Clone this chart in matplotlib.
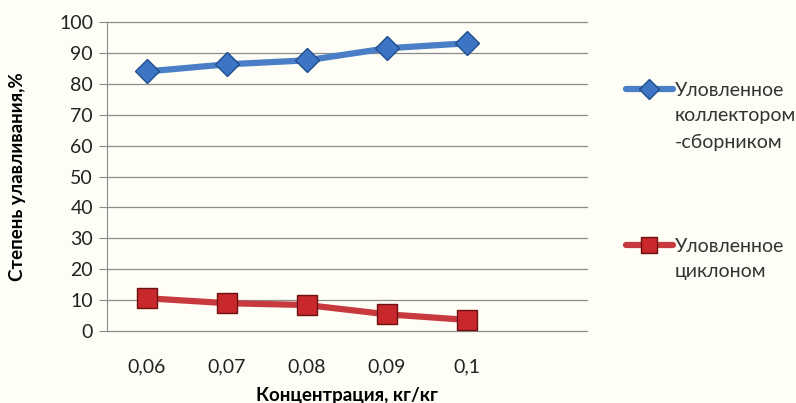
import matplotlib
matplotlib.use("Agg")
import matplotlib.pyplot as plt

categories = ["0,06", "0,07", "0,08", "0,09", "0,1"]
collector = [84, 86.3, 87.6, 91.5, 93.1]
cyclone = [10.6, 9.0, 8.4, 5.4, 3.6]
yticks = [0, 10, 20, 30, 40, 50, 60, 70, 80, 90, 100]
label_collector = ["Уловленное", "коллектором", "-сборником"]
label_cyclone = ["Уловленное", "циклоном"]

plt.rcParams['font.family'] = ['Lato', 'DejaVu Sans']
bg = "#FEFEF7"
fig = plt.figure(figsize=(7.96, 4.03), dpi=100, facecolor=bg)
ax = fig.add_axes([107/796, 1-331/403, 480/796, 309/403], facecolor=bg)

x = list(range(len(categories)))
l1, = ax.plot(x, collector, color="#4A7EC6", lw=4.5, marker="D", ms=12,
              mfc="#3D74C4", mec="#1F4E8C", mew=1.0, solid_capstyle="round", zorder=3)
l2, = ax.plot(x, cyclone, color="#C8393D", lw=4.5, marker="s", ms=14,
              mfc="#C8282C", mec="#6E1010", mew=1.0, solid_capstyle="round", zorder=3)

ax.set_xlim(-0.5, 5.5)
ax.set_ylim(0, 100)
ax.set_yticks(yticks)
ax.set_xticks(x)
ax.set_xticklabels(categories)
ax.yaxis.grid(True, color="#8C8C8C", lw=0.9)
for gl in ax.yaxis.get_gridlines():
    gl.set_clip_on(False)
ax.set_axisbelow(True)
for s in ["top", "right", "bottom"]:
    ax.spines[s].set_visible(False)
ax.spines["left"].set_color("#8C8C8C")
ax.tick_params(axis="y", length=6, color="#8C8C8C", labelsize=14, pad=4, labelcolor="#222222")
ax.tick_params(axis="x", length=0, labelsize=14, pad=20, labelcolor="#222222")
ax.set_ylabel("Степень улавливания,%", fontsize=13.5, fontweight="bold", labelpad=24)
ax.set_xlabel("Концентрация, кг/кг", fontsize=13.5, fontweight="bold", labelpad=8)

fs = 14
def add_entry(handle, lines, yfirst):
    leg = fig.legend([handle], [" "], loc="center left",
                     bbox_to_anchor=(626/796, 1-yfirst/403), frameon=False,
                     fontsize=fs, handlelength=2.4, handletextpad=0.0,
                     markerscale=0.85, borderaxespad=0, borderpad=0)
    for i, line in enumerate(lines):
        fig.text(675/796, 1-(yfirst + i*26)/403, line, fontsize=fs, color="#333333",
                 ha="left", va="center")
    return leg

add_entry(l1, label_collector, 90)
add_entry(l2, label_cyclone, 246)

fig.savefig("out.png", dpi=100, facecolor=bg)
